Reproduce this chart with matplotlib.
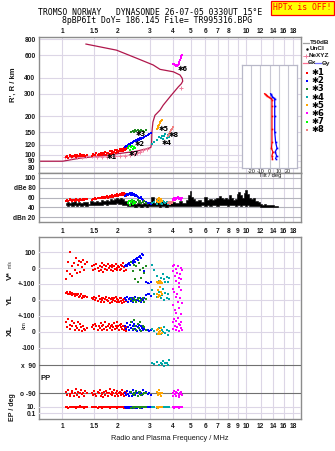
import matplotlib
matplotlib.use("Agg")
import matplotlib.pyplot as plt
from matplotlib.lines import Line2D

plt.rcParams['font.family'] = ['Liberation Sans', 'DejaVu Sans']

# ---------------- data ----------------
title1 = "TROMSO NORWAY   DYNASONDE 26-07-05 0330UT 15\u00b0E"
title2 = "8pBP6It DoY= 186.145 File= TR995316.BPG"

grid_f = [1, 1.5, 2, 3, 4, 5, 6, 7, 8, 9, 10, 12, 14, 16, 18]
top_labels = ["1", "1.5", "2", "3", "4", "5", "6", "7", "8", "", "10", "12", "14", "16", "18"]
bot_labels = ["1", "1.5", "2", "3", "4", "5", "6", "7", "8", "9", "10", "12", "14", "16", "18"]
h_ticks = [80, 90, 100, 120, 150, 200, 300, 400, 600, 800]
db_ticks = [20, 40, 60, 80, 100]
db_labels = ["dBn 20", "40", "60", "dBe 80", "100"]

# plasma-frequency profile (MHz, km)
prof_f = [0.75, 1.01, 1.25, 1.61, 1.99, 2.49, 2.88, 3.04, 3.07, 3.08, 3.12, 3.2, 3.41, 3.55,
          3.86, 4.29, 4.45, 4.53, 4.5, 4.38, 4.03, 3.41, 3.13, 2.55, 1.98, 1.35]
prof_h = [89, 89, 94, 97.6, 101.7, 106, 111, 114, 125, 150, 180, 203, 223, 244,
          283, 339, 358, 375, 395, 419, 444, 464, 502, 566, 655, 731]
# NeXYZ
nexyz_f = [1.04, 1.12, 1.2, 1.28, 1.35, 1.45, 1.55, 1.65, 1.75, 1.85, 1.95, 2.07, 2.2, 2.34, 2.45, 2.55, 2.66, 2.77, 2.9]
nexyz_h = [95.5, 95.5, 96, 96.5, 97, 97, 96.5, 96.5, 96.8, 97, 97.3, 97.3, 98.5, 100, 101, 102.7, 105, 108, 111]
nexyz_peak_f = [4.45]
nexyz_peak_h = [330]

# ---- echo classes ----
red_f = [1.05, 1.07, 1.08, 1.10, 1.11, 1.13, 1.14, 1.16, 1.17, 1.19, 1.20, 1.22, 1.24, 1.25, 1.27, 1.29, 1.30, 1.32, 1.34, 1.36,
         1.46, 1.48, 1.50, 1.52, 1.54, 1.56, 1.58, 1.60, 1.62, 1.64, 1.66, 1.68, 1.70, 1.72, 1.74, 1.76, 1.78, 1.80, 1.82, 1.84,
         1.86, 1.88, 1.90, 1.92, 1.94, 1.96, 1.98, 2.00, 2.02, 2.04, 2.06, 2.08, 2.10, 2.12, 2.14, 2.16, 2.18, 2.20, 2.22, 2.24]
red_h = [96, 98, 95, 97, 99, 96, 98, 97, 100, 96, 99, 97, 98, 101, 97, 99, 98, 100, 97, 99,
         98, 101, 99, 100, 103, 99, 102, 100, 104, 101, 99, 103, 102, 105, 100, 104, 103, 101, 106, 102,
         104, 107, 103, 105, 108, 104, 106, 109, 105, 107, 110, 106, 108, 111, 107, 109, 112, 108, 110, 113]
red_db = [53, 55, 52, 54, 56, 53, 55, 54, 52, 56, 54, 55, 53, 57, 55, 54, 56, 55, 57, 56,
          55, 57, 56, 58, 57, 59, 58, 60, 59, 58, 61, 60, 62, 59, 61, 63, 60, 62, 64, 61,
          63, 65, 62, 64, 66, 63, 65, 67, 64, 66, 68, 65, 67, 69, 66, 68, 70, 67, 65, 63]
red_v = [-70, -20, 40, 100, -40, 10, -50, 30, -10, 60, -30, 20, 45, -25, 35, 5, 50, -15, 25, 40,
         10, -15, 20, -5, 25, 0, -20, 15, -10, 30, 5, -25, 20, -5, 10, -15, 25, 0, 15, -10,
         5, 20, -20, 10, -5, 25, 0, -15, 15, 5, -10, 20, -5, 10, 30, -20, 5, 15, -10, 20]
red_yl = [45, 50, 40, 35, 48, 30, 42, 38, 25, 35, 30, 40, 20, 28, 35, 15, 25, 18, 22, 20,
          15, 5, 20, 0, 10, -5, 25, 5, -10, 15, 0, 10, -15, 5, 20, 0, -5, 10, -20, 5,
          15, -10, 0, 10, -5, 20, -15, 5, 0, -10, 15, -5, 10, -20, 0, 5, -10, 15, -5, 0]
red_xl = [60, 30, 80, 45, 20, 70, 35, 55, 10, 40, 25, 65, 15, 50, 30, 5, 40, 20, 10, 25,
          30, 45, 20, 50, 35, 10, 40, 25, 55, 15, 35, 45, 20, 60, 30, 10, 40, 50, 25, 35,
          15, 45, 30, 55, 20, 40, 65, 25, 35, 10, 45, 30, 50, 20, 40, 15, 35, 25, 5, 30]
red_pp = [-80, -100, -70, -95, -110, -85, -75, -105, -90, -65, -100, -80, -115, -90, -70, -95, -85, -105, -75, -90,
          -85, -100, -75, -95, -110, -80, -90, -70, -105, -85, -95, -115, -80, -100, -75, -90, -110, -85, -65, -95,
          -80, -100, -90, -70, -105, -85, -95, -75, -110, -90, -80, -100, -85, -70, -95, -105, -90, -80, -100, -85]
red_ep = [8, 12, 6, 10, 14, 7, 11, 9, 13, 6, 10, 8, 12, 15, 7, 9, 11, 6, 13, 10,
          10, 7, 12, 9, 14, 6, 11, 8, 13, 10, 5, 12, 9, 7, 11, 14, 8, 10, 6, 12,
          9, 13, 7, 11, 10, 8, 14, 6, 12, 9, 11, 7, 13, 10, 8, 12, 6, 9, 11, 10]

blue_f = [2.20, 2.23, 2.26, 2.28, 2.31, 2.34, 2.36, 2.39, 2.42, 2.44, 2.47, 2.50, 2.53, 2.56, 2.59, 2.62, 2.65, 2.68, 2.72, 2.76, 2.80, 2.86, 2.92, 2.98, 3.05]
blue_h = [115, 118, 117, 120, 122, 119, 124, 123, 126, 125, 128, 127, 130, 129, 132, 131, 134, 133, 136, 135, 137, 140, 143, 145, 148]
blue_db = [64, 66, 68, 65, 67, 69, 66, 70, 68, 65, 67, 63, 66, 64, 62, 60, 58, 61, 57, 55, 52, 50, 49, 48, 47]
blue_v = [10, 20, 15, 25, 30, 20, 35, 40, 30, 45, 50, 40, 55, 60, 50, 70, 75, 65, 85, 80, -20, -85, -95, -100, -90]
blue_yl = [10, 0, 20, -10, 5, 15, -5, 10, 0, -15, 5, 20, -10, 0, 10, -5, 15, -15, 5, 0, 10, 30, 35, 40, 25]
blue_xl = [40, 20, 55, 30, 10, 45, 25, 60, 35, 15, 50, 20, 40, 5, 30, 45, 15, 35, 25, 10, 20, 10, 15, 5, 10]
blue_pp = [-85, -100, -75, -95, -105, -80, -90, -110, -70, -95, -85, -100, -75, -90, -105, -80, -95, -85, -100, -70, -90, -80, -95, -85, -100]
blue_ep = [8, 5, 12, 6, 10, 4, 9, 7, 11, 5, 8, 6, 10, 4, 7, 9, 5, 12, 6, 8, 10, 9, 11, 8, 10]

green_f = [2.38, 2.42, 2.46, 2.50, 2.54, 2.58, 2.62, 2.66, 2.70, 2.75, 2.80, 2.86]
green_h = [150, 153, 151, 155, 152, 156, 154, 150, 157, 153, 151, 155]
green_db = [52, 50, 53, 49, 51, 54, 50, 52, 48, 51, 53, 49]
green_v = [40, -20, 20, -70, 10, -85, 30, -10, -60, 0, -30, 15]
green_yl = [5, -5, 10, 0, -10, 5, 15, -5, 0, 10, -15, 5]
green_xl = [60, 20, 75, 35, 10, 50, 25, 65, 5, 40, 30, 15]
green_pp = [-80, -95, -100, -85, -75, -105, -90, -80, -100, -95, -85, -90]
green_ep = [6, 9, 5, 8, 11, 7, 10, 6, 8, 12, 7, 9]

teal_f = [3.10, 3.15, 3.30, 3.38, 3.45, 3.50, 3.55, 3.60, 3.65, 3.70, 3.75, 3.80]
teal_h = [122, 126, 130, 138, 135, 141, 133, 139, 144, 136, 142, 137]
teal_db = [48, 50, 46, 52, 49, 47, 53, 50, 48, 51, 46, 49]
teal_v = [20, -10, -50, -80, -60, -95, -40, -70, -90, -55, -85, -65]
teal_yl = [60, 40, 20, 50, 10, 30, 70, 0, 45, 15, 35, 5]
teal_xl = [20, 5, -10, 25, -15, 10, 0, 30, -5, 15, -20, 5]
teal_pp = [100, 95, 110, 90, 100, 95, 115, 85, 105, 100, 90, 120]
teal_ep = [8, 12, 6, 10, 9, 11, 7, 13, 9, 10, 8, 12]

orange_f = [3.28, 3.31, 3.34, 3.37, 3.40, 3.43, 3.46, 3.49]
orange_h = [158, 163, 168, 172, 176, 180, 184, 188]
orange_db = [52, 56, 50, 58, 54, 51, 57, 53]
orange_v = [-90, -100, -85, -95, -80, -100, -90, -95]
orange_yl = [40, 20, 60, 30, 80, 25, 50, 35]
orange_xl = [10, -10, 20, 0, -15, 5, 25, -5]
orange_pp = [-80, -100, -90, -70, -95, -85, -105, -90]
orange_ep = [10, 6, 12, 8, 9, 11, 7, 10]

mag_f = [4.00, 4.03, 4.06, 4.10, 4.14, 4.18, 4.22, 4.26, 4.30, 4.34, 4.38, 4.42, 4.46, 4.50]
mag_h = [515, 512, 508, 504, 500, 495, 492, 498, 510, 525, 545, 565, 585, 600]
mag_db = [54, 56, 58, 55, 60, 57, 59, 61, 58, 56, 60, 57, 55, 58]
mag_v = [10, -20, 20, -50, -5, -80, -30, 15, -60, -95, -40, 0, -70, -10]
mag_yl = [70, -30, 50, -60, 20, -80, 40, -10, 80, -50, 10, -90, 60, -20]
mag_xl = [60, 20, 80, 40, 10, 70, 30, 90, 50, 5, 45, 25, 65, 15]
mag_pp = [-85, -105, -75, -95, -110, -80, -90, -70, -100, -115, -85, -95, -80, -100]
mag_ep = [8, 11, 6, 10, 13, 7, 9, 12, 5, 10, 8, 11, 7, 9]

lime_f = [2.28, 2.31, 2.34, 2.37, 2.40, 2.43, 2.46, 2.49]
lime_h = [112, 116, 109, 114, 118, 111, 115, 113]
lime_db = [48, 52, 45, 50, 54, 47, 51, 49]

salmon_f = [3.75, 3.80, 3.85, 3.90, 3.95, 4.00]
salmon_h = [140, 145, 150, 155, 160, 165]
salmon_db = [48, 51, 47, 50, 49, 52]

# echo-class labels in the height panel (label, MHz, km)
class_labels = [("\u27311", 1.85, 96), ("\u27317", 2.46, 101), ("\u27312", 2.64, 121),
                ("\u27313", 2.66, 146), ("\u27315", 3.58, 160), ("\u27314", 3.7, 124),
                ("\u27318", 4.05, 142), ("\u27316", 4.55, 466)]

# unclassified amplitude (MHz, top dB, bottom dB)
unc_f = [1.05, 1.08, 1.11, 1.14, 1.17, 1.20, 1.24, 1.28, 1.32, 1.36, 1.40, 1.45, 1.50, 1.55, 1.60, 1.65, 1.70, 1.75,
         1.80, 1.85, 1.90, 1.95, 2.00, 2.05, 2.10, 2.15, 2.20, 2.30, 2.40, 2.50, 2.60, 2.70, 2.80, 2.90, 3.00, 3.10,
         3.20, 3.30, 3.40, 3.50, 3.60, 3.70, 3.80, 3.90, 4.00, 4.20, 4.40, 4.60, 4.80, 4.90, 5.00, 5.10, 5.20, 5.40,
         5.60, 5.80, 6.00, 6.20, 6.40, 6.60, 6.80, 7.00, 7.20, 7.40, 7.60, 7.80, 8.00, 8.20, 8.40, 8.60, 8.80, 9.00,
         9.20, 9.40, 9.60, 9.80, 10.0, 10.2, 10.5, 10.8, 11.1, 11.4, 11.7, 12.0, 12.3, 12.6, 13.0, 13.5, 14.0, 14.5, 15.0]
unc_top = [49, 51, 48, 50, 52, 49, 51, 48, 50, 51, 47, 52, 50, 53, 51, 54, 52, 55,
           53, 56, 54, 57, 58, 56, 59, 57, 53, 47, 49, 46, 48, 46, 49, 47, 50, 62,
           48, 56, 47, 52, 48, 50, 47, 49, 51, 48, 52, 49, 55, 66, 73, 62, 56, 52,
           54, 51, 62, 55, 57, 54, 56, 60, 64, 58, 56, 59, 57, 66, 58, 55, 57, 68,
           71, 66, 60, 70, 75, 68, 60, 56, 60, 53, 51, 47, 45, 46, 44, 45, 44, 43, 42]
unc_bot = [44, 43, 44, 43, 44, 43, 44, 43, 44, 43, 44, 44, 45, 44, 45, 45, 46, 45,
           46, 46, 47, 46, 48, 47, 46, 45, 44, 42, 42, 41, 42, 41, 42, 41, 42, 42,
           42, 42, 41, 42, 42, 41, 42, 42, 42, 42, 42, 43, 43, 43, 42, 43, 43, 43,
           43, 44, 43, 44, 43, 44, 44, 43, 44, 44, 44, 44, 43, 44, 44, 44, 43, 44,
           44, 43, 44, 44, 43, 44, 43, 43, 43, 42, 42, 41, 41, 41, 41, 40, 40, 40, 40]

# tilt profiles for the inset (deg, km)
tiltx_deg = [-5.5, -4, -2.5, -1, 1, 2.5, 2.5, 2.5, 2.5, 2.5, 2.0, 3.5, 2.5, 3.0]
tiltx_h = [300, 295, 288, 282, 276, 270, 240, 200, 160, 125, 112, 105, 98, 93]
tilty_deg = [1, 2, 3, 4.5, 5.5, 5.5, 5.5, 5.5, 6.5, 8, 6, 7.5, 6.5]
tilty_h = [300, 292, 284, 278, 272, 240, 200, 150, 125, 112, 105, 98, 93]

# colours
C_RED, C_BLUE, C_GREEN, C_TEAL = "#ff0000", "#0000ff", "#1f8a1f", "#00a8a8"
C_ORANGE, C_MAG, C_LIME, C_SALMON = "#ffa500", "#ff00ff", "#00ff00", "#f08080"
class_colors = [C_RED, C_BLUE, C_GREEN, C_TEAL, C_ORANGE, C_MAG, C_LIME, C_SALMON]

# ---------------- figure ----------------
W, H = 335, 451
fig = plt.figure(figsize=(W / 100, H / 100), dpi=100)
fig.patch.set_facecolor('white')

GRID = '#dcd6e6'
FRAME = '#8c8c8c'
TXT = '#1a1a1a'
FS = 4.8
FW = 'bold'
FMIN, FMAX = 0.75, 19.9
MS = 1.9


def rect(x0, y0, x1, y1):
    return [x0 / W, 1 - y1 / H, (x1 - x0) / W, (y1 - y0) / H]


def fx(px):
    return px / W


def fy(py):
    return 1 - py / H


def boldify(ax):
    for lab in ax.get_xticklabels() + ax.get_yticklabels():
        lab.set_fontweight(FW)


def freq_axes(r, xgrid=True):
    ax = fig.add_axes(r)
    ax.set_xscale('log')
    ax.set_xlim(FMIN, FMAX)
    ax.set_xticks(grid_f, labels=bot_labels)
    ax.minorticks_off()
    ax.tick_params(axis='both', which='both', length=0, labelsize=FS, colors=TXT, pad=2.5)
    ax.tick_params(axis='x', labelbottom=False)
    if xgrid:
        ax.grid(True, axis='x', color=GRID, lw=0.8)
    for s in ax.spines.values():
        s.set_color(FRAME)
        s.set_linewidth(1.0)
    ax.set_axisbelow(True)
    return ax


def pts(ax, f, v, c, clip=False):
    ax.plot(f, v, ls='none', marker='s', ms=MS, mew=0, color=c, clip_on=clip, zorder=3)


# ---- height panel ----
axh = freq_axes(rect(39, 37, 301, 173))
axh.set_yscale('log')
axh.set_ylim(72, 830)
axh.set_yticks(h_ticks, labels=[str(t) for t in h_ticks])
axh.minorticks_off()
axh.set_xticks(grid_f, labels=top_labels)
axh.tick_params(axis='x', labeltop=True, labelbottom=False, pad=1.5)
axh.tick_params(axis='y', length=0, pad=2.5)
axh.grid(True, axis='y', color=GRID, lw=0.8)
boldify(axh)
axh.plot(prof_f, prof_h, color='#b0174c', lw=0.9, zorder=2)
axh.plot(nexyz_f, nexyz_h, color='#f080a0', lw=0.5, marker='+', ms=2.5, mew=0.7, zorder=2)
axh.plot(nexyz_peak_f, nexyz_peak_h, ls='none', color='#f080a0', marker='+', ms=2.5, mew=0.7, zorder=4)
pts(axh, red_f, red_h, C_RED, True)
pts(axh, blue_f, blue_h, C_BLUE, True)
pts(axh, green_f, green_h, C_GREEN, True)
pts(axh, lime_f, lime_h, C_LIME, True)
pts(axh, teal_f, teal_h, C_TEAL, True)
pts(axh, orange_f, orange_h, C_ORANGE, True)
pts(axh, salmon_f, salmon_h, C_SALMON, True)
pts(axh, mag_f, mag_h, C_MAG, True)
for lab, f, h in class_labels:
    axh.text(f, h, lab, fontsize=4.8, fontweight='bold', color='black', ha='center', va='center', zorder=5,
             family=['DejaVu Sans'])

# ---- amplitude panel ----
axd = freq_axes(rect(39, 173, 301, 222))
axd.set_ylim(10, 110)
axd.set_yticks(db_ticks, labels=db_labels)
axd.grid(True, axis='y', color='#b4b4bc', lw=0.8)
axd.tick_params(axis='x', labelbottom=True, pad=4)
boldify(axd)
axd.fill_between(unc_f, unc_bot, unc_top, step='mid', color='black', lw=0.4, zorder=2)
pts(axd, red_f, red_db, C_RED, True)
pts(axd, blue_f, blue_db, C_BLUE, True)
pts(axd, green_f, green_db, C_GREEN, True)
pts(axd, lime_f, lime_db, C_LIME, True)
pts(axd, teal_f, teal_db, C_TEAL, True)
pts(axd, orange_f, orange_db, C_ORANGE, True)
pts(axd, salmon_f, salmon_db, C_SALMON, True)
pts(axd, mag_f, mag_db, C_MAG, True)

# ---- tilt inset ----
axi = fig.add_axes(rect(242, 65.3, 297.3, 168))
axi.set_facecolor('white')
axi.set_yscale('log')
axi.set_ylim(78.5, 501)
axi.set_xlim(-30, 30)
axi.set_xticks([-20, -10, 0, 10, 20], labels=["-20", "-10", "0", "10", "20"])
axi.set_yticks([])
axi.minorticks_off()
axi.tick_params(axis='x', length=0, labelsize=3.9, pad=0.8, colors=TXT)
axi.grid(True, axis='x', color='#c8c8d4', lw=0.8)
for s in axi.spines.values():
    s.set_color('#b8b8c8')
    s.set_linewidth(0.9)
axi.plot(tiltx_deg, tiltx_h, color=C_RED, lw=0.9, marker='s', ms=1.2, mew=0)
axi.plot(tilty_deg, tilty_h, color=C_BLUE, lw=0.9, marker='s', ms=1.2, mew=0)
fig.text(fx(270), fy(175.5), "Tilt / deg", fontsize=4.2, color=TXT, ha='center', va='center')

# ---- lower panel frame ----
axf = freq_axes(rect(39, 237, 301, 419))
axf.set_yticks([])
axf.tick_params(axis='x', labelbottom=True, pad=3)
boldify(axf)


def sub_axes(r, ylim, ticks, labels, log=False, gridc=GRID):
    ax = fig.add_axes(r)
    ax.set_facecolor('none')
    ax.set_xscale('log')
    ax.set_xlim(FMIN, FMAX)
    if log:
        ax.set_yscale('log')
    ax.set_ylim(*ylim)
    ax.set_xticks([])
    ax.set_yticks(ticks, labels=labels)
    ax.minorticks_off()
    ax.tick_params(axis='y', length=0, labelsize=FS, colors=TXT, pad=2.5)
    boldify(ax)
    for s in ax.spines.values():
        s.set_visible(False)
    for t in ticks:
        ax.axhline(t, color=gridc, lw=0.8, zorder=1)
    return ax


axv = sub_axes(rect(39, 237, 301, 284), (-100, 194), [100, 0], ["100", "0"])
axy = sub_axes(rect(39, 284, 301, 316), (-100, 100), [100, 0], ["+-100", "0"])
axx = sub_axes(rect(39, 316, 301, 358), (-162.5, 100), [100, 0, -100], ["+-100", "0", "-100"])
axp = sub_axes(rect(39, 358, 301, 400), (-132.7, 134.6), [90, -90], ["x  90", "o -90"], gridc='#707070')
axe = sub_axes(rect(39, 400, 301, 419), (0.00155, 1660), [10, 0.1], ["10.", "0.1"], log=True)

series = [(red_f, red_v, red_yl, red_xl, red_pp, red_ep, C_RED),
          (blue_f, blue_v, blue_yl, blue_xl, blue_pp, blue_ep, C_BLUE),
          (green_f, green_v, green_yl, green_xl, green_pp, green_ep, C_GREEN),
          (teal_f, teal_v, teal_yl, teal_xl, teal_pp, teal_ep, C_TEAL),
          (orange_f, orange_v, orange_yl, orange_xl, orange_pp, orange_ep, C_ORANGE),
          (mag_f, mag_v, mag_yl, mag_xl, mag_pp, mag_ep, C_MAG)]
for f, v, yl, xl, pp, ep, c in series:
    pts(axv, f, v, c)
    pts(axy, f, yl, c)
    pts(axx, f, xl, c)
    pts(axp, f, pp, c)
    pts(axe, f, ep, c)

# ---- axis texts ----
fig.text(fx(13), fy(84.5), "R', R / km", rotation=90, fontsize=5.5, fontweight='bold', color=TXT,
         ha='center', va='center')
fig.text(fx(10), fy(276), "V*", rotation=90, fontsize=6, fontweight='bold', color=TXT, ha='center', va='center')
fig.text(fx(10), fy(264), "m/s", rotation=90, fontsize=3.4, color=TXT, ha='center', va='center')
fig.text(fx(10), fy(300), "YL", rotation=90, fontsize=6, fontweight='bold', color=TXT, ha='center', va='center')
fig.text(fx(24), fy(325), "km", rotation=90, fontsize=4.2, color=TXT, ha='center', va='center')
fig.text(fx(10), fy(331), "XL", rotation=90, fontsize=6, fontweight='bold', color=TXT, ha='center', va='center')
fig.text(fx(46), fy(379), "PP", fontsize=5.5, fontweight='bold', color=TXT, ha='center', va='center')
fig.text(fx(13), fy(407), "EP / deg", rotation=90, fontsize=5, fontweight='bold', color=TXT, ha='center', va='center')
fig.text(fx(170), fy(439), "Radio and Plasma Frequency / MHz", fontsize=5.3, color=TXT, ha='center', va='center')

# ---- titles ----
fig.text(fx(150), fy(12.3), title1, family='DejaVu Sans Mono', fontsize=5.9, color='black', ha='center', va='center')
fig.text(fx(157.5), fy(20.5), title2, family='DejaVu Sans Mono', fontsize=5.9, color='black', ha='center', va='center')
fig.text(fx(302.5), fy(8), "HPTx is OFF!", family='DejaVu Sans Mono', fontsize=5.9, color='#ff0000',
         ha='center', va='center',
         bbox=dict(boxstyle='square,pad=0.25', facecolor='#ffff00', edgecolor='#ff0000', lw=0.9))

# ---- legend (right side) ----
def fline(x0, x1, y, c, lw=0.9):
    fig.add_artist(Line2D([fx(x0), fx(x1)], [fy(y), fy(y)], color=c, lw=lw, transform=fig.transFigure))


fline(303, 309, 43, '#a0a0a0')
fig.text(fx(310), fy(43), "T50dB", fontsize=4.6, fontweight='bold', color=TXT, va='center')
fig.add_artist(Line2D([fx(307)], [fy(49)], marker='.', ms=1.5, color='black', transform=fig.transFigure))
fig.text(fx(310), fy(49), "UnCl", fontsize=4.6, fontweight='bold', color=TXT, va='center')
fig.add_artist(Line2D([fx(306)], [fy(55.7)], marker='+', ms=3, mew=0.7, color='#f080a0', transform=fig.transFigure))
fline(303, 309, 55.7, '#f080a0', 0.5)
fig.text(fx(309), fy(55.7), "NeXYZ", fontsize=4.6, fontweight='bold', color=TXT, va='center')
fline(303, 308, 63, '#ff7090')
fig.text(fx(308), fy(63), "\u0398x", fontsize=4.6, fontweight='bold', color=TXT, va='center')
fline(315, 321, 63, '#7070ff')
fig.text(fx(322), fy(63), "\u0398y", fontsize=4.6, fontweight='bold', color=TXT, va='center')
for i, c in enumerate(class_colors):
    yy = 72.7 + 8.14 * i
    fig.add_artist(Line2D([fx(306.7)], [fy(yy)], marker='s', ms=2.0, mew=0, color=c, transform=fig.transFigure))
    fig.text(fx(311), fy(yy), "\u2731%d" % (i + 1), fontsize=6, fontweight='bold', color='black', va='center',
             family=['DejaVu Sans'])

fig.savefig("out.png", dpi=100)
